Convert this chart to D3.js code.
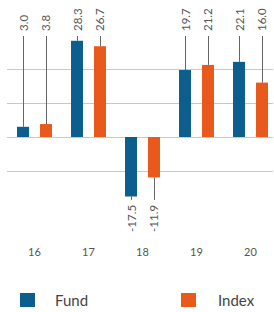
<!DOCTYPE html>
<html>
<head>
<meta charset="utf-8">
<script src="https://cdn.jsdelivr.net/npm/d3@7"></script>
<style>
  body { margin: 0; background: #fff; }
  svg { display: block; font-family: Lato, "Open Sans", sans-serif; }
</style>
</head>
<body>
<svg id="chart" width="274" height="312"></svg>
<script>
const years = ['16', '17', '18', '19', '20'];
const series = ['Fund', 'Index'];
const fund = [3.0, 28.3, -17.5, 19.7, 22.1];
const index = [3.8, 26.7, -11.9, 21.2, 16.0];
const gridValues = [20, 10, 0, -10];
const colors = { Fund: '#0b5e8e', Index: '#e8591b' };

const svg = d3.select('#chart');

const x0 = d3.scaleBand().domain(years).range([7.5, 277.5]);
const x1 = d3.scaleBand().domain(series).range([0, x0.bandwidth()])
  .paddingInner(0.48).paddingOuter(0.414);
const y = d3.scaleLinear().domain([-20, 30]).range([205, 35]);

// gridlines
svg.append('g').selectAll('line').data(gridValues).join('line')
  .attr('x1', 7).attr('x2', 273)
  .attr('y1', d => Math.round(y(d)) + 0.5).attr('y2', d => Math.round(y(d)) + 0.5)
  .attr('stroke', '#c8c8c8').attr('stroke-width', 1);

const rows = years.map((yr, i) => [
  { year: yr, key: 'Fund', value: fund[i] },
  { year: yr, key: 'Index', value: index[i] }
]).flat();

const cx = d => x0(d.year) + x1(d.key) + x1.bandwidth() / 2;

// leader lines
svg.append('g').selectAll('line').data(rows).join('line')
  .attr('x1', d => Math.round(cx(d)) + 0.5).attr('x2', d => Math.round(cx(d)) + 0.5)
  .attr('y1', d => y(d.value))
  .attr('y2', d => d.value >= 0 ? y(30) + 1 : y(-18.5))
  .attr('stroke', '#666').attr('stroke-width', 1);

// bars
svg.append('g').selectAll('rect').data(rows).join('rect')
  .attr('x', d => x0(d.year) + x1(d.key))
  .attr('width', x1.bandwidth())
  .attr('y', d => y(Math.max(0, d.value)))
  .attr('height', d => Math.abs(y(d.value) - y(0)))
  .attr('fill', d => colors[d.key]);

// value labels (rotated)
svg.append('g').selectAll('text').data(rows).join('text')
  .attr('transform', d => {
    const ty = d.value >= 0 ? y(30) - 4 : y(-18.5) + 5;
    return `translate(${cx(d)},${ty}) rotate(-90)`;
  })
  .attr('text-anchor', d => d.value >= 0 ? 'start' : 'end')
  .attr('dominant-baseline', 'central')
  .attr('font-size', 11.5)
  .attr('fill', '#555')
  .text(d => d.value.toFixed(1));

// year labels
svg.append('g').selectAll('text').data(years).join('text')
  .attr('x', d => x0(d) + x0.bandwidth() / 2)
  .attr('y', 256)
  .attr('text-anchor', 'middle')
  .attr('font-size', 11)
  .attr('fill', '#555')
  .text(d => d);

// legend
const legendX = [20, 181];
const legend = svg.append('g').selectAll('g').data(series).join('g')
  .attr('transform', (d, i) => `translate(${legendX[i]},293)`);
legend.append('rect')
  .attr('width', 15).attr('height', 14)
  .attr('fill', d => colors[d]);
legend.append('text')
  .attr('x', (d, i) => i === 0 ? 35 : 37)
  .attr('y', 13)
  .attr('font-size', 15)
  .attr('fill', '#444')
  .text(d => d);
</script>
</body>
</html>
